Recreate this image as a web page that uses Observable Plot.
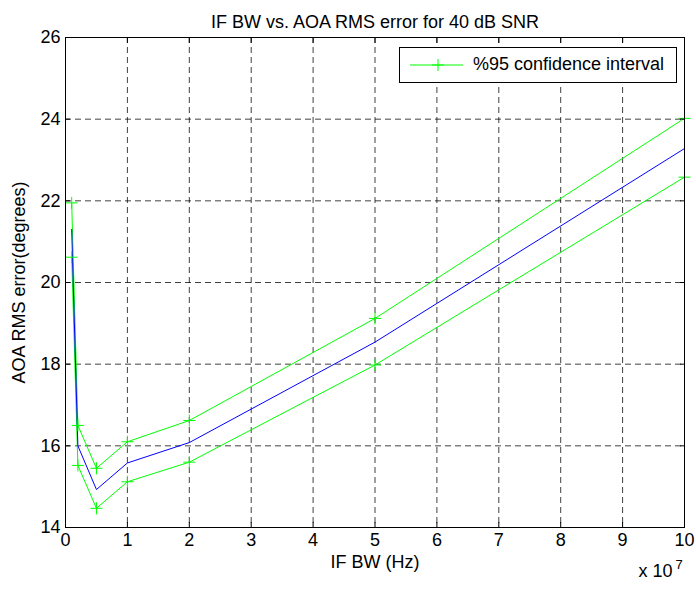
<!DOCTYPE html>
<html>
<head>
<meta charset="utf-8">
<script src="https://cdn.jsdelivr.net/npm/d3@7"></script>
<script src="https://cdn.jsdelivr.net/npm/@observablehq/plot@0.6"></script>
<style>
  body { margin: 0; background: #fff; }
  #wrap { position: relative; width: 696px; height: 590px; font-family: "Liberation Sans", Arial, sans-serif; }
  #legend { position: absolute; left: 399px; top: 47px; width: 276px; height: 34px; border: 1px solid #000; background: #fff; box-sizing: content-box; }
  #legend svg { position: absolute; left: 0; top: 0; }
  #legend span { position: absolute; left: 73px; top: 6px; font-size: 18px; line-height: 21px; color: #000; white-space: nowrap; }
</style>
</head>
<body>
<div id="wrap"></div>
<script>
// Data
const bandwidth = [1e6, 2e6, 5e6, 1e7, 2e7, 5e7, 1e8];
const upperCI = [21.95, 16.5, 15.45, 16.1, 16.62, 19.12, 24.02];
const meanErr = [21.3, 16.0, 14.93, 15.58, 16.08, 18.54, 23.28];
const lowerCI = [20.62, 15.52, 14.47, 15.12, 15.6, 17.98, 22.58];
const xTicks = [0, 1e7, 2e7, 3e7, 4e7, 5e7, 6e7, 7e7, 8e7, 9e7, 1e8];
const yTicks = [14, 16, 18, 20, 22, 24, 26];
const titleText = "IF BW vs. AOA RMS error for 40 dB SNR";
const xLabel = "IF BW (Hz)";
const yLabel = "AOA RMS error(degrees)";
const legendLabel = "%95 confidence interval";

const upper = bandwidth.map((x, i) => ({x, y: upperCI[i]}));
const mean = bandwidth.map((x, i) => ({x, y: meanErr[i]}));
const lower = bandwidth.map((x, i) => ({x, y: lowerCI[i]}));

const plusSymbol = {
  draw(ctx, size) {
    const h = 6;
    ctx.moveTo(-h, 0); ctx.lineTo(h, 0);
    ctx.moveTo(0, -h); ctx.lineTo(0, h);
  }
};

const GREEN = "#00ff00", BLUE = "#0000ff";
const grid = {stroke: "#000", strokeOpacity: 0.75, strokeWidth: 1, strokeDasharray: "6,4"};

const chart = Plot.plot({
  width: 696,
  height: 590,
  marginLeft: 65,
  marginRight: 12,
  marginTop: 37,
  marginBottom: 63,
  style: {fontFamily: "Liberation Sans, Arial, sans-serif", fontSize: "18px", color: "#000", background: "#fff"},
  x: {domain: [0, 1e8]},
  y: {domain: [14, 26]},
  marks: [
    Plot.gridX({ticks: xTicks, ...grid}),
    Plot.gridY({ticks: yTicks, ...grid}),
    Plot.line(upper, {x: "x", y: "y", stroke: GREEN, strokeWidth: 1}),
    Plot.line(lower, {x: "x", y: "y", stroke: GREEN, strokeWidth: 1}),
    Plot.line(mean, {x: "x", y: "y", stroke: BLUE, strokeWidth: 1}),
    Plot.dot(upper, {x: "x", y: "y", symbol: plusSymbol, r: 4, stroke: GREEN, fill: "none", strokeWidth: 1}),
    Plot.dot(lower, {x: "x", y: "y", symbol: plusSymbol, r: 4, stroke: GREEN, fill: "none", strokeWidth: 1}),
    Plot.frame({stroke: "#000", strokeWidth: 1}),
    Plot.axisX({ticks: xTicks, tickFormat: d => d / 1e7, tickSize: -5, tickPadding: 11, label: null, fontSize: 18}),
    Plot.axisX({anchor: "top", ticks: xTicks, tickFormat: () => "", tickSize: -5, label: null}),
    Plot.axisY({ticks: yTicks, tickSize: -5, tickPadding: 10, label: null, fontSize: 18}),
    Plot.axisY({anchor: "right", ticks: yTicks, tickFormat: () => "", tickSize: -5, label: null}),
    Plot.text([titleText], {text: d => d, frameAnchor: "top", textAnchor: "middle", dy: -22, fontSize: 18}),
    Plot.text([xLabel], {text: d => d, frameAnchor: "bottom", textAnchor: "middle", dy: 40, fontSize: 18}),
    Plot.text([yLabel], {text: d => d, frameAnchor: "left", textAnchor: "middle", dx: -46, rotate: -90, fontSize: 18}),
    Plot.text(["x 10"], {text: d => d, frameAnchor: "bottom-right", textAnchor: "end", dx: -12, dy: 49, fontSize: 18}),
    Plot.text(["7"], {text: d => d, frameAnchor: "bottom-right", textAnchor: "start", dx: -9, dy: 41, fontSize: 13})
  ]
});

const wrap = document.getElementById("wrap");
wrap.appendChild(chart);

const legend = document.createElement("div");
legend.id = "legend";
legend.innerHTML = `<svg width="70" height="34"><line x1="10" y1="17" x2="63" y2="17" stroke="${GREEN}" stroke-width="1"/><line x1="32" y1="17" x2="44" y2="17" stroke="${GREEN}"/><line x1="38" y1="11" x2="38" y2="23" stroke="${GREEN}"/></svg><span></span>`;
legend.querySelector("span").textContent = legendLabel;
wrap.appendChild(legend);
</script>
</body>
</html>
